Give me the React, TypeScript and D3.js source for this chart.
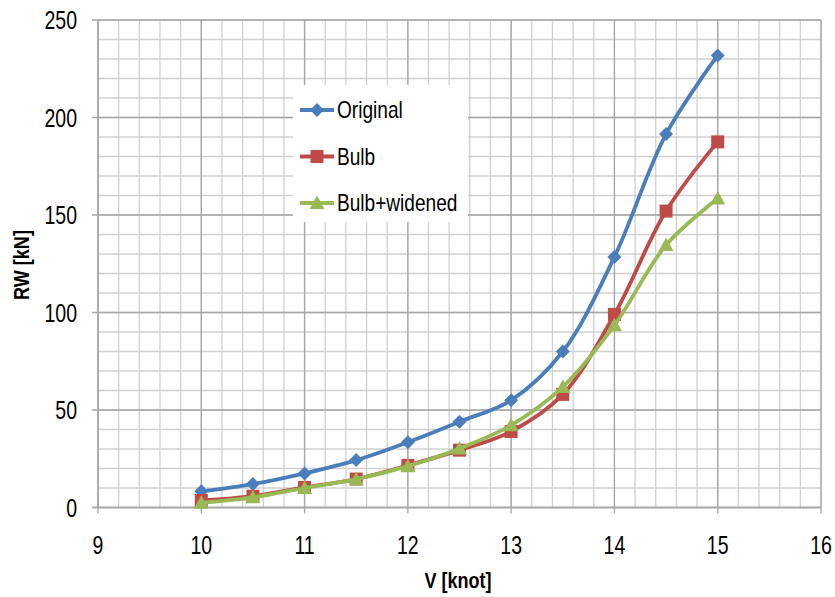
import React from "react";
import * as d3 from "d3";

const speeds = [10, 10.5, 11, 11.5, 12, 12.5, 13, 13.5, 14, 14.5, 15];
const original = [8.3, 12, 17.5, 24.3, 33.5, 44, 55, 80, 128.5, 191.5, 231.8];
const bulb = [3.6, 5.8, 10.3, 14.6, 21.6, 29.4, 39, 58, 99, 152, 187.5];
const bulbWidened = [2.4, 5.2, 10, 14.5, 21.2, 30.3, 42.2, 61.8, 93.5, 134.6, 158.4];
const seriesNames = ["Original", "Bulb", "Bulb+widened"];
const seriesColors = ["#4A7EBB", "#BE4B48", "#98B954"];
const xTicks = [9, 10, 11, 12, 13, 14, 15, 16];
const yTicks = [0, 50, 100, 150, 200, 250];

const W = 835;
const H = 597;
const left = 98;
const right = 821;
const top = 20;
const bottom = 507.5;

export default function App() {
  const x = d3.scaleLinear().domain([9, 16]).range([left, right]);
  const y = d3.scaleLinear().domain([0, 250]).range([bottom, top]);
  const series = [original, bulb, bulbWidened];

  const xMinor = d3.range(9, 16.001, 0.2);
  const yMinor = d3.range(0, 250.001, 10);

  const line = d3
    .line<[number, number]>()
    .x((d) => x(d[0]))
    .y((d) => y(d[1]))
    .curve(d3.curveCatmullRom.alpha(0.5));

  const marker = (i: number, cx: number, cy: number, key: string) => {
    const c = seriesColors[i];
    if (i === 0) {
      const s = 7;
      return (
        <path
          key={key}
          d={`M${cx},${cy - s}L${cx + s},${cy}L${cx},${cy + s}L${cx - s},${cy}Z`}
          fill={c}
        />
      );
    }
    if (i === 1) {
      const s = 6.5;
      return <rect key={key} x={cx - s} y={cy - s} width={2 * s} height={2 * s} fill={c} />;
    }
    const s = 7.5;
    return (
      <path
        key={key}
        d={`M${cx},${cy - s}L${cx + s},${cy + s * 0.8}L${cx - s},${cy + s * 0.8}Z`}
        fill={c}
      />
    );
  };

  const font = "'Liberation Sans', Arial, sans-serif";

  return (
    <svg
      width={W}
      height={H}
      style={{ position: "absolute", left: 0, top: 0, background: "#fff" }}
      fontFamily={font}
    >
      <rect x={0} y={0} width={W} height={H} fill="#fff" />
      {xMinor.map((v, i) => (
        <line key={"xm" + i} x1={x(v)} x2={x(v)} y1={top} y2={bottom} stroke="#D0D0D0" strokeWidth={1.3} />
      ))}
      {yMinor.map((v, i) => (
        <line key={"ym" + i} x1={left} x2={right} y1={y(v)} y2={y(v)} stroke="#D0D0D0" strokeWidth={1.3} />
      ))}
      {xTicks.map((v) => (
        <line key={"xM" + v} x1={x(v)} x2={x(v)} y1={top} y2={bottom + 6} stroke="#A6A6A6" strokeWidth={1.3} />
      ))}
      {yTicks.map((v) => (
        <line key={"yM" + v} x1={left - 6} x2={right} y1={y(v)} y2={y(v)} stroke="#A6A6A6" strokeWidth={1.3} />
      ))}
      <line x1={left} x2={left} y1={top} y2={bottom} stroke="#A6A6A6" strokeWidth={1.5} />
      <line x1={left - 6} x2={right} y1={bottom} y2={bottom} stroke="#A6A6A6" strokeWidth={1.5} />

      {yTicks.map((v) => (
        <text
          key={"yl" + v}
          transform={`translate(${left - 21},${y(v) + 9}) scale(0.78,1)`}
          textAnchor="end"
          fontSize={25}
          fill="#000"
        >
          {v}
        </text>
      ))}
      {xTicks.map((v) => (
        <text
          key={"xl" + v}
          transform={`translate(${x(v)},${553.5}) scale(0.78,1)`}
          textAnchor="middle"
          fontSize={25}
          fill="#000"
        >
          {v}
        </text>
      ))}
      <text
        transform={`translate(458,588) scale(0.82,1)`}
        textAnchor="middle"
        fontSize={22}
        fontWeight="bold"
      >
        V [knot]
      </text>
      <text
        transform={`translate(29,265) rotate(-90) scale(0.82,1)`}
        textAnchor="middle"
        fontSize={22}
        fontWeight="bold"
      >
        RW [kN]
      </text>

      {series.map((vals, i) => (
        <g key={"s" + i}>
          <path
            d={line(speeds.map((s, j) => [s, vals[j]] as [number, number])) || ""}
            fill="none"
            stroke={seriesColors[i]}
            strokeWidth={3.8}
            strokeLinejoin="round"
          />
          {speeds.map((s, j) => marker(i, x(s), y(vals[j]), `m${i}-${j}`))}
        </g>
      ))}

      <rect x={293} y={85} width={175} height={137} fill="#fff" />
      {seriesNames.map((n, i) => {
        const ly = 110 + i * 46.5;
        return (
          <g key={"lg" + i}>
            <line x1={300} x2={334} y1={ly} y2={ly} stroke={seriesColors[i]} strokeWidth={3.8} />
            {marker(i, 317, ly, "lm" + i)}
            <text
              transform={`translate(337,${ly + 8}) scale(0.83,1)`}
              fontSize={23}
              fill="#000"
            >
              {n}
            </text>
          </g>
        );
      })}
    </svg>
  );
}
